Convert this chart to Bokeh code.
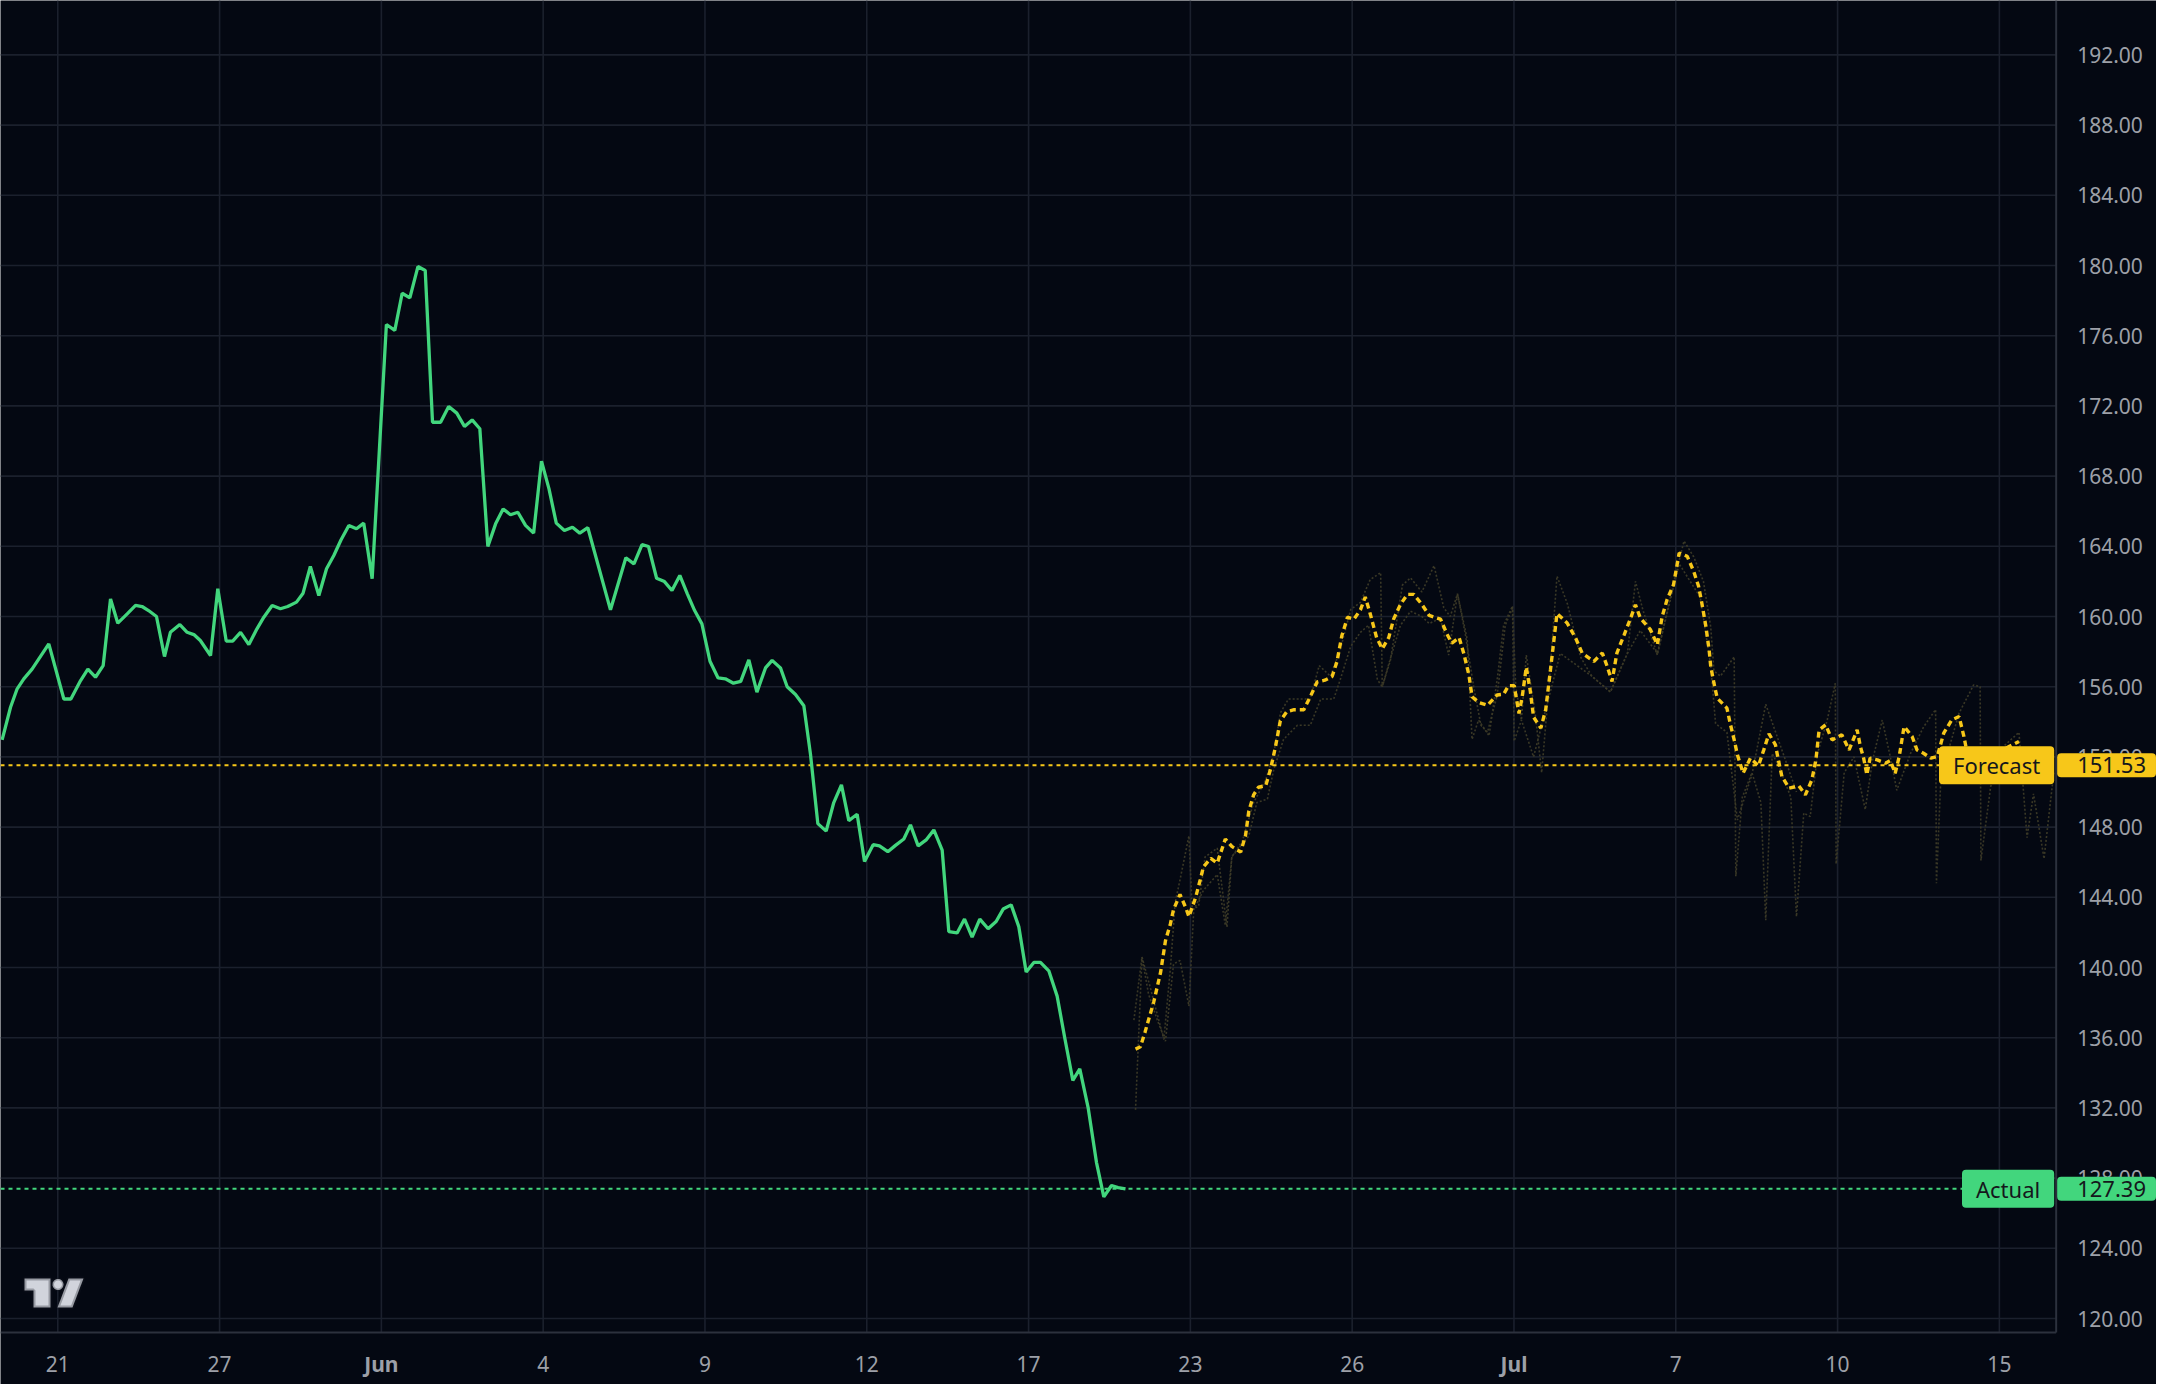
import numpy as np
from bokeh.plotting import figure
from bokeh.models import Range1d, Label, PolyAnnotation
from bokeh.core.properties import value
from bokeh.embed import file_html
from bokeh.resources import INLINE

# ---------------- data (x = bar index, y = price) ----------------
actual_x = [0.2, 1.24, 2.06, 2.88, 3.9, 5.97, 7.83, 8.7, 9.9, 10.8, 11.74, 12.69, 13.6, 14.5,
            15.66, 16.69, 17.5, 18.3, 19.28, 20.27, 21.0, 22.17, 23.07, 23.9, 24.7, 25.96,
            26.86, 27.9, 28.7, 29.67, 30.7, 31.7, 32.55, 33.58, 34.6, 35.5, 36.59, 37.4, 38.3,
            39.35, 40.3, 41.2, 42.1, 43.06, 44.0, 44.9, 45.94, 47.7, 48.74, 49.65, 50.6, 51.6,
            52.5, 53.4, 54.4, 55.4, 56.4, 57.35, 58.3, 59.25, 60.24, 61.2, 62.13, 63.04, 63.95,
            64.9, 65.9, 66.87, 67.8, 68.7, 69.7, 70.7, 71.6, 72.6, 75.4, 77.3, 78.3, 79.3,
            80.1, 81.1, 82.07, 83.0, 83.97, 84.9, 85.8, 86.7, 87.7, 88.7, 89.6, 90.6, 91.5,
            92.5, 93.5, 94.56, 95.38, 96.41, 97.24, 98.27, 99.3, 100.12, 101.03, 102.06, 103.0,
            103.95, 104.86, 105.89, 106.8, 107.87, 108.65, 109.68, 110.63, 111.66, 112.48,
            113.43, 114.46, 115.37, 116.4, 117.22, 118.25, 119.16, 120.1, 121.05, 122.08,
            123.07, 123.94, 124.93, 125.87, 126.78, 127.73, 128.55, 129.58, 130.61, 131.56,
            132.55, 133.41, 134.44, 135.47, 136.38, 137.33, 138.15, 139.06]
actual_y = [152.97, 154.83, 155.88, 156.45, 157.0, 158.44, 155.3, 155.3, 156.35, 157.0, 156.54,
            157.2, 161.0, 159.62, 160.15, 160.63, 160.57, 160.34, 160.0, 157.72, 159.1, 159.54,
            159.1, 158.97, 158.63, 157.78, 161.58, 158.6, 158.6, 159.1, 158.4, 159.3, 159.96,
            160.63, 160.44, 160.57, 160.82, 161.33, 162.85, 161.2, 162.72, 163.48, 164.37,
            165.19, 165.0, 165.32, 162.15, 176.64, 176.3, 178.42, 178.16, 179.94, 179.72,
            171.07, 171.07, 171.97, 171.59, 170.83, 171.2, 170.7, 163.99, 165.28, 166.13,
            165.8, 165.94, 165.19, 164.75, 168.85, 167.27, 165.32, 164.9, 165.09, 164.75,
            165.06, 160.38, 163.35, 163.0, 164.1, 163.99, 162.18, 161.99, 161.48, 162.34,
            161.29, 160.34, 159.58, 157.45, 156.5, 156.45, 156.2, 156.3, 157.53, 155.69,
            157.07, 157.5, 157.07, 156.0, 155.56, 154.92, 152.16, 148.2, 147.77, 149.4,
            150.41, 148.37, 148.73, 146.04, 147.0, 146.93, 146.6, 146.96, 147.32, 148.13,
            146.93, 147.29, 147.84, 146.69, 142.04, 141.97, 142.76, 141.73, 142.76, 142.21,
            142.62, 143.33, 143.57, 142.33, 139.74, 140.29, 140.29, 139.81, 138.37, 135.97,
            133.57, 134.22, 132.02, 128.9, 126.93, 127.58, 127.46, 127.39]

forecast_x = [140.3, 140.9, 141.5, 142.56, 143.4, 144.0, 144.6, 145.0, 145.8, 146.5, 146.9,
              147.7, 148.3, 148.7, 149.6, 150.4, 151.4, 152.2, 153.3, 153.9, 154.3, 154.9,
              155.5, 156.4, 157.0, 157.6, 158.2, 159.0, 159.9, 161.1, 161.9, 162.75, 163.7,
              164.6, 165.2, 165.8, 166.5, 167.3, 168.1, 168.7, 169.3, 170.1, 170.8, 171.6,
              172.2, 173.05, 173.9, 174.7, 175.7, 176.6, 178.0, 178.8, 179.4, 180.3, 180.9,
              181.5, 181.9, 182.7, 183.8, 185.0, 185.8, 186.4, 187.1, 187.7, 188.1, 188.6,
              189.1, 189.5, 190.4, 191.0, 191.6, 192.4, 193.65, 194.7, 195.5, 196.95, 198.0,
              198.6, 199.2, 199.8, 200.7, 201.5, 202.1, 202.7, 203.95, 204.8, 205.4, 206.0,
              206.8, 207.5, 208.5, 209.3, 209.9, 210.3, 210.8, 211.2, 211.4, 211.8, 212.2,
              213.4, 213.8, 214.3, 214.7, 215.4, 216.3, 217.3, 217.96, 218.6, 219.4, 219.8,
              220.2, 221.1, 222.3, 223.1, 223.9, 224.4, 224.8, 225.6, 226.4, 227.6, 228.5,
              229.5, 229.9, 230.3, 230.7, 231.1, 232.0, 233.0, 233.6, 234.2, 234.7, 235.3,
              236.3, 236.9, 237.7, 238.6, 239.4, 240.2, 241.2, 242.1, 242.7, 243.1, 245.0,
              247.5, 249.5]
forecast_y = [135.35, 135.48, 136.36, 138.05, 139.73, 141.52, 142.47, 143.31, 144.16, 143.42,
              142.9, 143.95, 145.0, 145.74, 146.22, 145.95, 147.32, 146.9, 146.58, 147.53,
              148.9, 149.84, 150.27, 150.37, 151.32, 152.58, 154.06, 154.58, 154.69, 154.69,
              155.43, 156.27, 156.37, 156.58, 157.43, 158.9, 159.96, 159.85, 160.38, 161.11,
              160.17, 158.8, 158.16, 158.8, 159.85, 160.69, 161.26, 161.26, 160.69, 160.06,
              159.85, 159.0, 158.48, 158.8, 157.85, 156.69, 155.43, 155.11, 154.94, 155.53,
              155.57, 156.06, 156.06, 154.48, 155.43, 157.11, 155.74, 154.27, 153.64, 154.69,
              157.0, 160.17, 159.63, 158.77, 157.92, 157.44, 157.92, 157.16, 156.3, 157.92,
              158.96, 159.91, 160.67, 159.91, 159.25, 158.39, 160.0, 160.96, 161.81, 163.62,
              163.43, 162.57, 161.72, 160.77, 159.44, 158.11, 157.16, 156.2, 155.35, 154.78,
              153.92, 152.97, 152.12, 151.07, 151.93, 151.49, 152.4, 153.32, 152.69, 151.74,
              150.88, 150.22, 150.35, 149.84, 150.69, 151.83, 153.54, 153.83, 152.97, 153.26,
              152.4, 153.54, 152.59, 151.93, 150.98, 151.93, 151.83, 151.64, 151.79, 151.07,
              152.02, 153.73, 153.16, 152.4, 152.21, 151.93, 152.02, 153.35, 154.11, 154.3,
              153.16, 152.21, 151.6, 152.4, 152.88]

raw_a_x = [140.3, 141.1, 141.9, 143.0, 144.0, 145.0, 145.8, 146.9, 147.5, 148.7, 150.4, 151.4,
           152.2, 154.3, 155.3, 156.6, 157.4, 158.6, 160.3, 161.9, 163.2, 164.8, 165.6, 166.9,
           168.1, 169.1, 170.2, 170.8, 171.8, 173.05, 174.3, 175.7, 176.6, 178.0, 179.0, 180.1,
           181.1, 182.1, 183.0, 183.8, 185.0, 186.0, 186.9, 187.3, 188.0, 188.6, 189.7, 190.5,
           191.4, 192.4, 193.7, 195.3, 196.7, 199.0, 201.1, 202.1, 203.0, 204.8, 206.8, 208.1,
           209.3, 210.5, 211.4, 211.8, 212.6, 214.3, 214.5, 215.3, 216.5, 217.6, 218.2, 219.0,
           220.0, 221.3, 222.0, 222.9, 223.7, 224.6, 225.8, 226.8, 226.9, 227.9, 229.1, 230.5,
           231.4, 232.6, 233.6, 234.4, 236.1, 237.7, 239.2, 239.3, 239.8, 240.8, 242.1, 243.9,
           244.7, 244.8, 246.0, 247.6, 249.5, 250.5, 251.3, 252.6, 253.8]
raw_a_y = [131.9, 140.6, 138.5, 137.0, 135.8, 140.2, 140.4, 137.8, 143.3, 144.4, 145.3, 142.4,
           146.3, 147.5, 149.4, 149.6, 151.3, 153.0, 153.8, 153.8, 155.3, 155.3, 156.4, 158.3,
           159.1, 159.5, 156.4, 156.0, 157.6, 159.5, 160.3, 160.0, 159.6, 159.9, 157.8, 161.3,
           158.9, 156.0, 153.8, 153.4, 155.5, 159.5, 160.5, 156.0, 154.1, 157.8, 154.5, 151.1,
           156.0, 162.3, 160.7, 157.7, 156.6, 155.7, 157.9, 162.0, 160.4, 157.8, 161.9, 164.3,
           163.4, 162.0, 159.4, 156.9, 156.6, 157.7, 145.2, 149.7, 151.1, 149.4, 142.7, 152.2,
           151.3, 149.7, 142.9, 148.8, 148.6, 152.2, 154.1, 156.2, 145.9, 151.1, 152.0, 149.0,
           151.8, 154.1, 152.0, 150.1, 152.2, 153.7, 154.7, 144.8, 150.3, 152.4, 154.5, 156.1,
           156.0, 146.1, 150.3, 152.6, 153.4, 147.4, 149.9, 146.2, 151.1]

raw_b_x = [140.1, 141.1, 142.1, 143.8, 144.6, 145.2, 145.8, 146.9, 147.3, 148.1, 148.9, 150.4,
           151.6, 152.2, 153.5, 154.9, 156.4, 157.4, 158.2, 159.2, 161.9, 163.0, 164.4, 165.6,
           166.9, 168.1, 169.3, 170.6, 170.8, 171.8, 173.3, 174.3, 175.7, 177.2, 178.4, 179.2,
           180.1, 181.3, 181.9, 182.7, 184.0, 185.0, 185.8, 186.9, 187.1, 188.0, 189.5, 192.8,
           196.7, 199.0, 201.1, 202.7, 204.8, 207.5, 210.1, 211.4, 212.0, 213.4, 214.7, 216.5,
           218.2, 220.5, 222.0]
raw_b_y = [137.0, 140.6, 138.9, 135.9, 139.9, 143.7, 145.0, 147.5, 143.3, 143.5, 146.3, 146.8,
           142.3, 146.3, 147.2, 149.4, 150.7, 152.2, 154.5, 155.3, 155.3, 157.2, 156.6, 158.1,
           160.4, 160.8, 162.1, 162.5, 156.0, 157.5, 161.8, 162.2, 161.4, 162.9, 160.5, 160.0,
           161.3, 158.7, 153.0, 154.1, 153.2, 156.4, 159.5, 160.6, 152.9, 154.1, 152.0, 157.9,
           156.6, 155.7, 157.9, 159.2, 157.9, 163.0, 161.1, 157.2, 153.9, 153.4, 148.4, 151.0,
           155.0, 152.0, 150.0]

forecast_last = 151.53
actual_last = 127.39

x_tick_bars = [7.08, 27.08, 47.08, 67.08, 87.08, 107.08, 127.08, 147.08, 167.08, 187.08,
               207.08, 227.08, 247.08]
x_tick_labels = ["21", "27", "Jun", "4", "9", "12", "17", "23", "26", "Jul", "7", "10", "15"]
month_labels = ["Jun", "Jul"]
y_ticks = [120, 124, 128, 132, 136, 140, 144, 148, 152, 156, 160, 164, 168, 172, 176, 180,
           184, 188, 192]

# ---------------- styling / layout ----------------
BG = "#040812"
GRID = "#1b202d"
AXIS = "#2c313d"
LABEL = "#9da0a8"
GREEN = "#42d67d"
YELLOW = "#f7c719"
RAW = "#3a3826"
FONT = "Noto Sans"
FS = "21px"

W, H = 2156, 1384            # whole canvas is the frame; axes are drawn by hand
X0, X_PANE, X_MAX = 0.0, 254.1, W / 8.09       # pane right edge (price-axis line)
Y_TOP, Y_PANE, Y_MIN = 195.1, 119.2, 116.24    # pane bottom (time-axis line)

p = figure(width=W, height=H, output_backend="svg", toolbar_location=None,
           x_range=Range1d(X0, X_MAX), y_range=Range1d(Y_MIN, Y_TOP),
           x_axis_location=None, y_axis_location=None,
           min_border=0, background_fill_color=BG, border_fill_color=BG,
           outline_line_color=None)
p.grid.grid_line_color = None

# grid lines within the pane
p.segment(x0=x_tick_bars, y0=[Y_PANE] * len(x_tick_bars), x1=x_tick_bars,
          y1=[Y_TOP] * len(x_tick_bars), line_color=GRID, line_width=1.6)
p.segment(x0=[X0] * len(y_ticks), y0=y_ticks, x1=[X_PANE] * len(y_ticks), y1=y_ticks,
          line_color=GRID, line_width=1.6)
# axis borders
p.segment(x0=[X0, X_PANE], y0=[Y_PANE, Y_PANE], x1=[X_PANE, X_PANE], y1=[Y_PANE, Y_TOP],
          line_color=AXIS, line_width=2)

# price axis labels
p.text(x=[X_PANE] * len(y_ticks), y=y_ticks, text=[f"{v:.2f}" for v in y_ticks],
       x_offset=21, text_align="left", text_baseline="middle", text_color=LABEL,
       text_font=value(FONT), text_font_size=value(FS))
# time axis labels
day_idx = [i for i, l in enumerate(x_tick_labels) if l not in month_labels]
mon_idx = [i for i, l in enumerate(x_tick_labels) if l in month_labels]
p.text(x=[x_tick_bars[i] for i in day_idx], y=[Y_PANE] * len(day_idx),
       text=[x_tick_labels[i] for i in day_idx], y_offset=31, text_align="center",
       text_baseline="middle", text_color=LABEL, text_font=value(FONT),
       text_font_size=value(FS))
p.text(x=[x_tick_bars[i] for i in mon_idx], y=[Y_PANE] * len(mon_idx),
       text=[x_tick_labels[i] for i in mon_idx], y_offset=31, text_align="center",
       text_baseline="middle", text_color=LABEL, text_font=value(FONT),
       text_font_size=value(FS), text_font_style="bold")

# raw forecast lines (faint)
p.line(raw_a_x, raw_a_y, line_color=RAW, line_width=1.6, line_dash="2 2")
p.line(raw_b_x, raw_b_y, line_color=RAW, line_width=1.6, line_dash="2 2")

# last value lines (pane width only)
p.segment(x0=[X0, X0], y0=[forecast_last, actual_last], x1=[X_PANE, X_PANE],
          y1=[forecast_last, actual_last], line_color=[YELLOW, GREEN], line_width=2,
          line_dash="4 4")

# series
p.line(forecast_x, forecast_y, line_color=YELLOW, line_width=3.4, line_dash="6 4")
p.line(actual_x, actual_y, line_color=GREEN, line_width=3.3)

# price tags
def tag(text, yv, color, x_off, align, pad_l, pad_r):
    p.add_layout(Label(x=X_PANE, y=yv, x_offset=x_off, text=text, text_align=align,
                       text_baseline="middle", text_color="#15171c", text_font=FONT,
                       text_font_size="22px", background_fill_color=color,
                       padding=dict(left=pad_l, right=pad_r, top=4, bottom=4),
                       border_radius=4))

tag("Forecast", forecast_last, YELLOW, -2, "right", 14, 14)
tag(f"{forecast_last:.2f}", forecast_last, YELLOW, 1, "left", 20, 10)
tag("Actual", actual_last, GREEN, -2, "right", 14, 14)
tag(f"{actual_last:.2f}", actual_last, GREEN, 1, "left", 20, 10)

# TradingView logo (screen units, from bottom-left of canvas)
logo_fill = "#d1d4dc"
logo_edge = "#131722"
p.add_layout(PolyAnnotation(xs=[24, 50, 50, 33, 33, 24], ys=[106, 106, 77, 77, 94, 94],
                            xs_units="screen", ys_units="screen", fill_color=logo_fill,
                            fill_alpha=1, line_color=logo_edge, line_width=4))
p.add_layout(PolyAnnotation(xs=[68, 83, 72, 57], ys=[106, 106, 77, 77],
                            xs_units="screen", ys_units="screen", fill_color=logo_fill,
                            fill_alpha=1, line_color=logo_edge, line_width=4))
ang = np.linspace(0, 2 * np.pi, 24)
p.add_layout(PolyAnnotation(xs=list(57.5 + 5.5 * np.cos(ang)), ys=list(100 + 5.5 * np.sin(ang)),
                            xs_units="screen", ys_units="screen", fill_color=logo_fill,
                            fill_alpha=1, line_color=logo_edge, line_width=3))

open("out.html", "w").write(file_html(p, INLINE))
